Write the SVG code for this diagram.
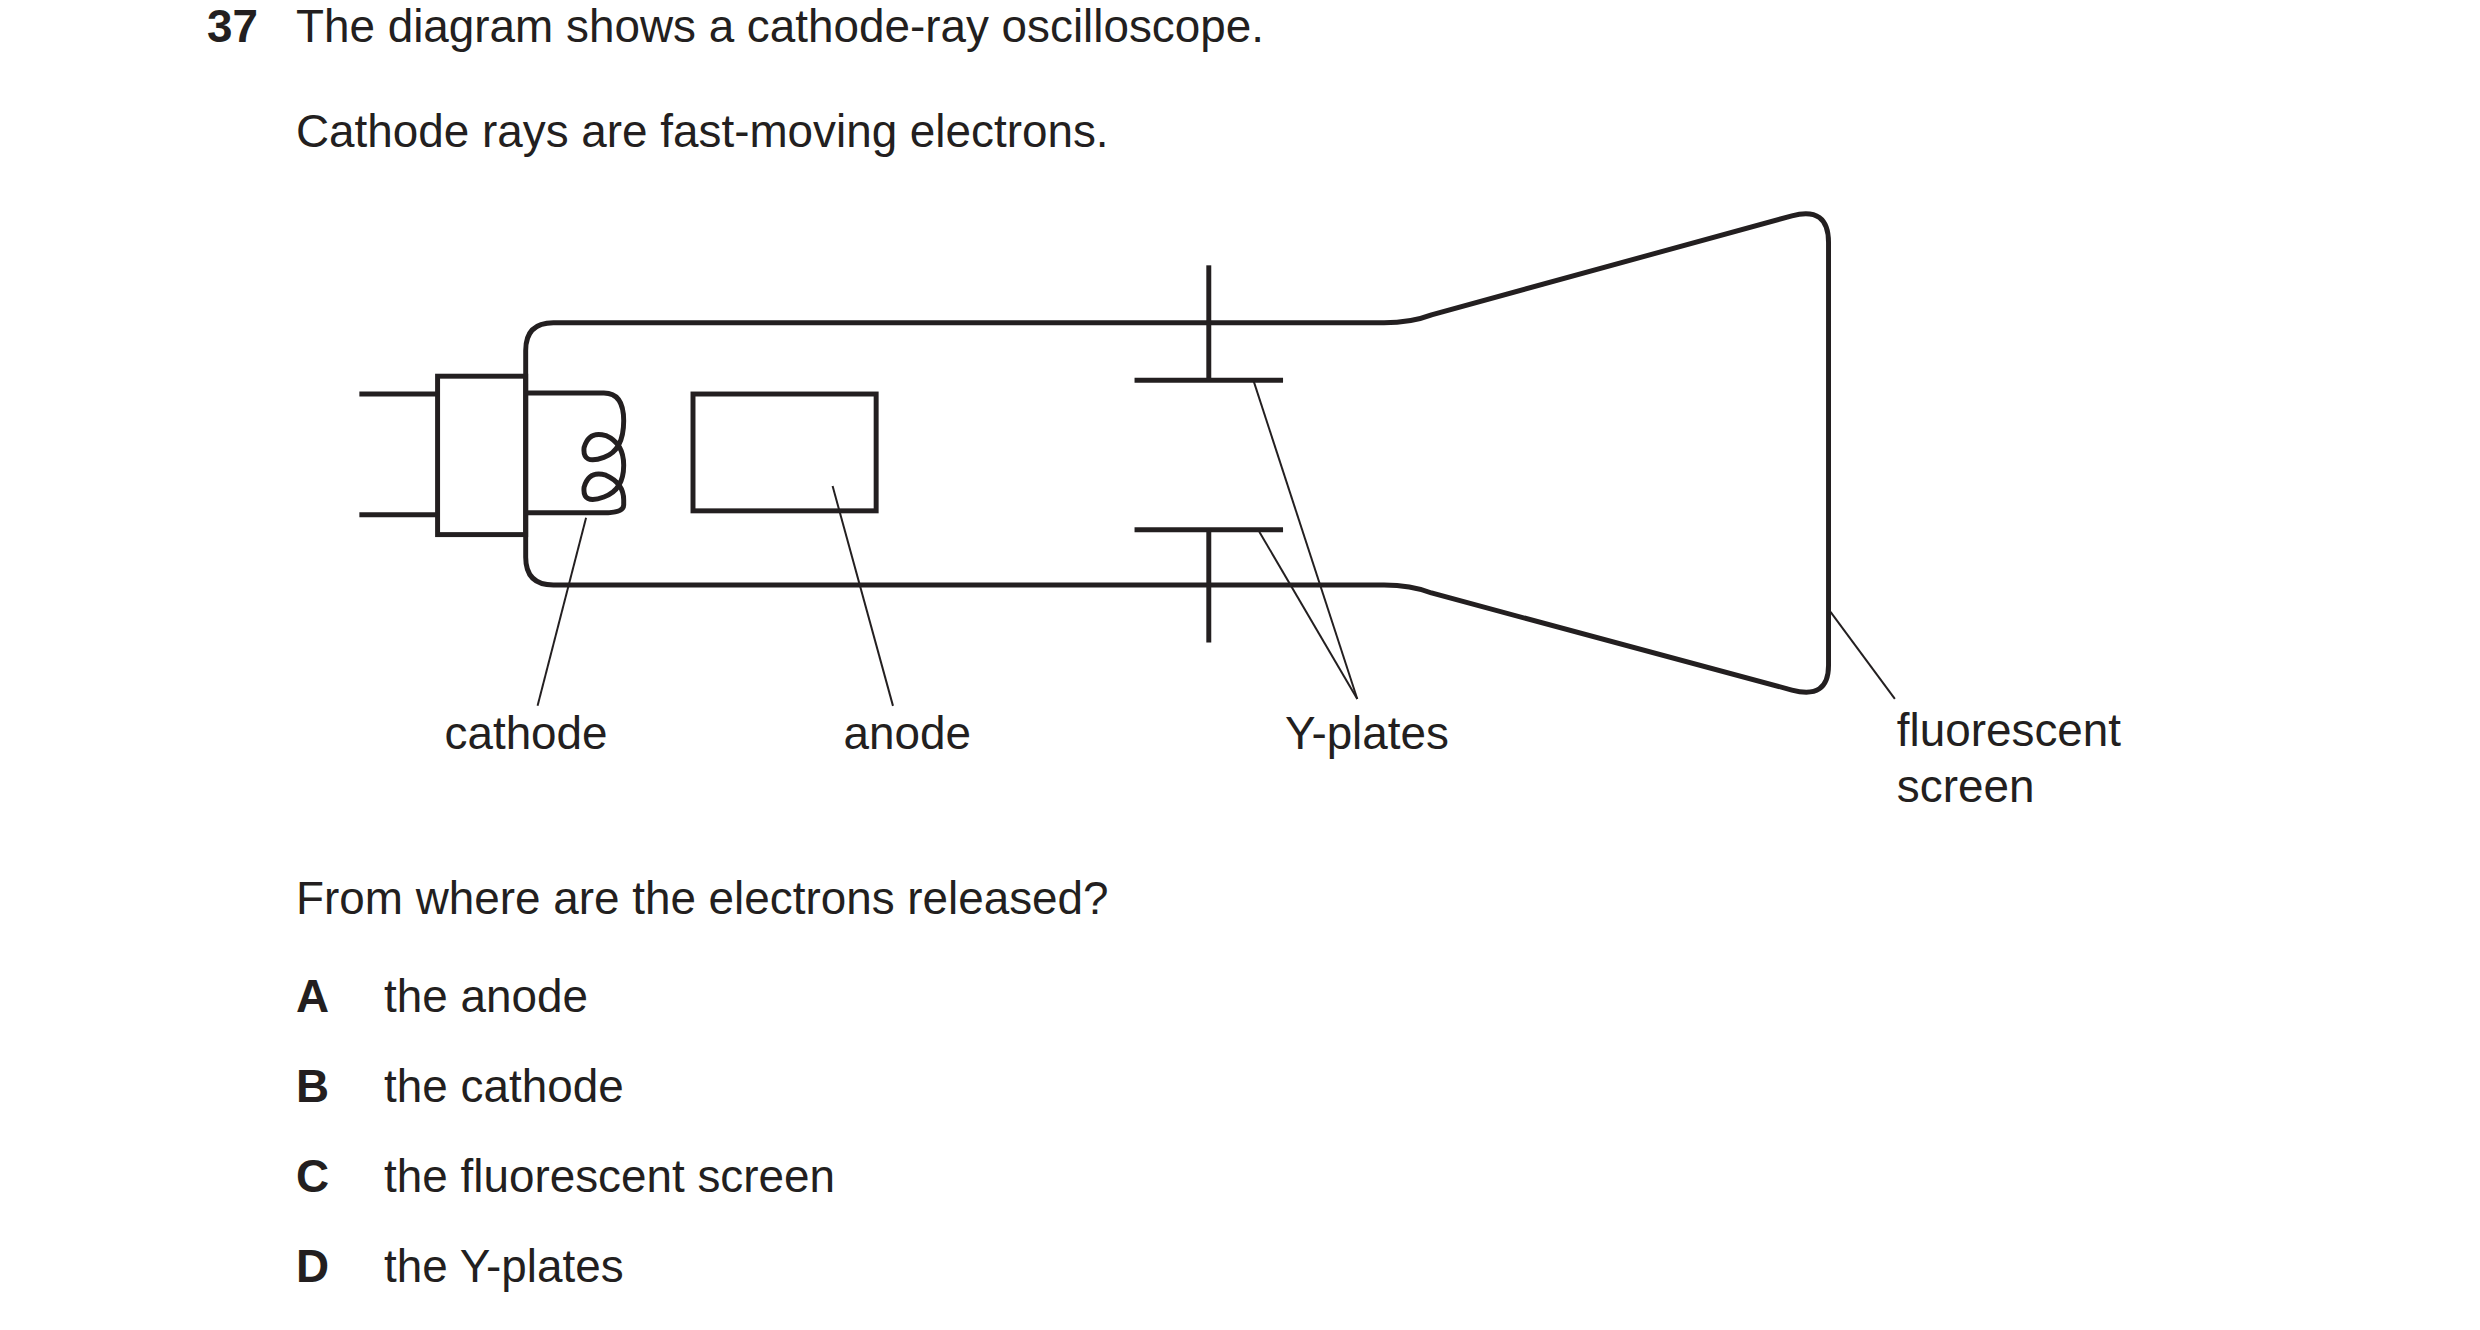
<svg xmlns="http://www.w3.org/2000/svg" width="2480" height="1330" viewBox="0 0 2480 1330">
<style>
text{font-family:"Liberation Sans",Arial,sans-serif;font-size:46.3px;fill:#231f20}
.b{font-weight:bold}
.t{fill:none;stroke:#231f20;stroke-width:5}
.l{fill:none;stroke:#231f20;stroke-width:2}
</style>
<rect width="2480" height="1330" fill="#fff"/>
<g transform="scale(0.99)">
<text class="b" x="209" y="42">37</text>
<text x="299" y="42">The diagram shows a cathode-ray oscilloscope.</text>
<text x="299" y="148">Cathode rays are fast-moving electrons.</text>
<g id="tube">
<path class="t" d="M1398,326 L559,326 Q531,326 531,354 L531,563 Q531,591 559,591 L1398,591 Q1425,591 1446,599 L1810,697 Q1847,707 1847,672 L1847,245 Q1847,208 1810,218 L1446,318 Q1425,326 1398,326 Z"/>
</g>
<g id="socket">
<rect class="t" x="442" y="380" width="89" height="160"/>
<line class="t" x1="363" y1="398" x2="442" y2="398"/>
<line class="t" x1="363" y1="520" x2="442" y2="520"/>
</g>
<g id="cathode">
<path class="t" d="M531,397 L610,397 Q630,397 630,425 Q630,455 610,462 Q588,470 590,452 Q595,435 612,440 Q630,448 630,470 Q630,495 610,502 Q588,510 590,492 Q595,475 612,480 Q630,488 630,505 L630,510 Q630,518 610,518 L531,518"/>
</g>
<g id="anode"><rect class="t" x="700" y="398" width="185" height="118"/></g>
<g id="yplates">
<line class="t" x1="1221" y1="268" x2="1221" y2="384"/>
<line class="t" x1="1146" y1="384" x2="1296" y2="384"/>
<line class="t" x1="1146" y1="535" x2="1296" y2="535"/>
<line class="t" x1="1221" y1="535" x2="1221" y2="649"/>
</g>
<g id="connectors">
<line class="l" x1="592" y1="523" x2="543" y2="713"/>
<line class="l" x1="841" y1="491" x2="902" y2="713"/>
<line class="l" x1="1266" y1="384" x2="1371" y2="706"/>
<line class="l" x1="1272" y1="537" x2="1371" y2="706"/>
<line class="l" x1="1849" y1="618" x2="1914" y2="706"/>
</g>
<g id="labels">
<text x="449" y="757">cathode</text>
<text x="852" y="757">anode</text>
<text x="1298" y="757">Y-plates</text>
<text x="1916" y="754">fluorescent</text>
<text x="1916" y="810">screen</text>
</g>
<text x="299" y="923">From where are the electrons released?</text>
<text class="b" x="299" y="1022">A</text><text x="388" y="1022">the anode</text>
<text class="b" x="299" y="1113">B</text><text x="388" y="1113">the cathode</text>
<text class="b" x="299" y="1204">C</text><text x="388" y="1204">the fluorescent screen</text>
<text class="b" x="299" y="1295">D</text><text x="388" y="1295">the Y-plates</text>
</g>
</svg>
